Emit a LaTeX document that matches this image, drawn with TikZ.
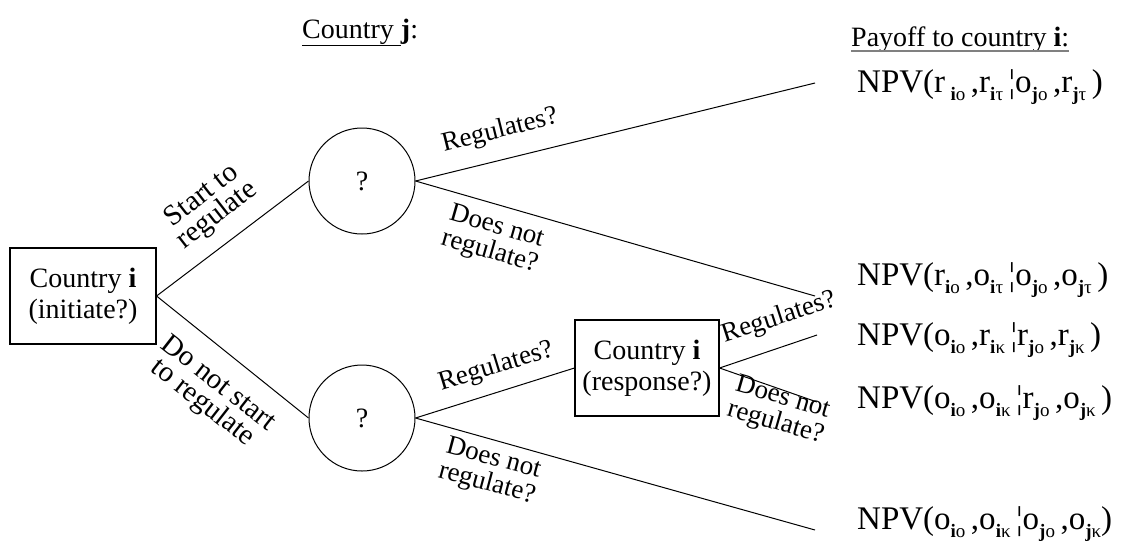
\documentclass[tikz,border=0pt]{standalone}
\usepackage{fontspec}
\setmainfont{Liberation Serif}
\newcommand{\sbx}[1]{\raisebox{-0.25em}{\fontsize{19}{19}\selectfont #1}}
\begin{document}
\begin{tikzpicture}[x=1pt,y=-1pt,
  lbl/.style={font=\fontsize{27}{26}\selectfont, align=center, inner sep=0pt},
  biglbl/.style={font=\fontsize{29}{25}\selectfont, align=center, inner sep=0pt},
  box/.style={draw, line width=1.1pt, minimum width=146pt, minimum height=96pt, align=center, inner sep=0pt, font=\fontsize{28}{31}\selectfont},
  chance/.style={draw, circle, line width=1pt, minimum size=106pt, inner sep=0pt, font=\fontsize{28}{30}\selectfont},
  edge/.style={line width=1pt},
  pay/.style={anchor=base west, inner sep=0pt, font=\fontsize{33}{33}\selectfont},
  hdr/.style={anchor=base west, inner sep=0pt, font=\fontsize{28}{30}\selectfont}]
\useasboundingbox (0,0) rectangle (1123,542);
% decision and chance nodes
\node[box] (A) at (83,296) {Country \textbf{i}\\(initiate?)};
\node[chance] (C1) at (362,181) {?};
\node[chance] (C2) at (362,418) {?};
\node[box, minimum width=144pt] (B) at (647,368) {Country \textbf{i}\\(response?)};
% free ends
\coordinate (e1) at (815,83);
\coordinate (e2) at (815,296);
\coordinate (e3) at (817,335);
\coordinate (e4) at (817,402);
\coordinate (e5) at (815,530);
% connectors
\draw[edge] (A.east) -- (C1.west);
\draw[edge] (A.east) -- (C2.west);
\draw[edge] (C1.east) -- (e1);
\draw[edge] (C1.east) -- (e2);
\draw[edge] (C2.east) -- (B.west);
\draw[edge] (C2.east) -- (e5);
\draw[edge] (B.east) -- (e3);
\draw[edge] (B.east) -- (e4);
% branch labels
\node[biglbl, rotate=38] (l1) at (210,206) {Start to\\regulate};
\node[biglbl, rotate=-38] (l2) at (210,394) {Do not start\\to regulate};
\node[lbl, rotate=14] (l3) at (500,131) {Regulates?};
\node[lbl, rotate=-16] (l4) at (493,240) {Does not\\regulate?};
\node[lbl, rotate=17] (l5) at (496,367) {Regulates?};
\node[lbl, rotate=-15] (l6) at (490,472) {Does not\\regulate?};
\node[lbl, rotate=18] (l7) at (779,318) {Regulates?};
\node[lbl, rotate=-16] (l8) at (779,411) {Does not\\regulate?};
% headers
\node[hdr] (hj) at (302,38) {\underline{Country\ }\textbf{j}:};
\node[hdr] (hp) at (851,46) {Payoff to country \textbf{i}:};
\draw[gray, line width=1.6pt] (hp.base west) ++(0,5) -- ([yshift=-5pt]hp.base east);
% payoffs
\node[pay] (p1) at (857,92) {NPV(r\,\sbx{\textbf{i}o}\,,r\sbx{\textbf{i}τ}\,¦o\sbx{\textbf{j}o}\,,r\sbx{\textbf{j}τ}\,)};
\node[pay] (p2) at (857,285) {NPV(r\sbx{\textbf{i}o}\,,o\sbx{\textbf{i}τ}\,¦o\sbx{\textbf{j}o}\,,o\sbx{\textbf{j}τ}\,)};
\node[pay] (p3) at (857,345) {NPV(o\sbx{\textbf{i}o}\,,r\sbx{\textbf{i}κ}\,¦r\sbx{\textbf{j}o}\,,r\sbx{\textbf{j}κ}\,)};
\node[pay] (p4) at (857,408) {NPV(o\sbx{\textbf{i}o}\,,o\sbx{\textbf{i}κ}\,¦r\sbx{\textbf{j}o}\,,o\sbx{\textbf{j}κ}\,)};
\node[pay] (p5) at (857,529) {NPV(o\sbx{\textbf{i}o}\,,o\sbx{\textbf{i}κ}\,¦o\sbx{\textbf{j}o}\,,o\sbx{\textbf{j}κ})};
\end{tikzpicture}
\end{document}
